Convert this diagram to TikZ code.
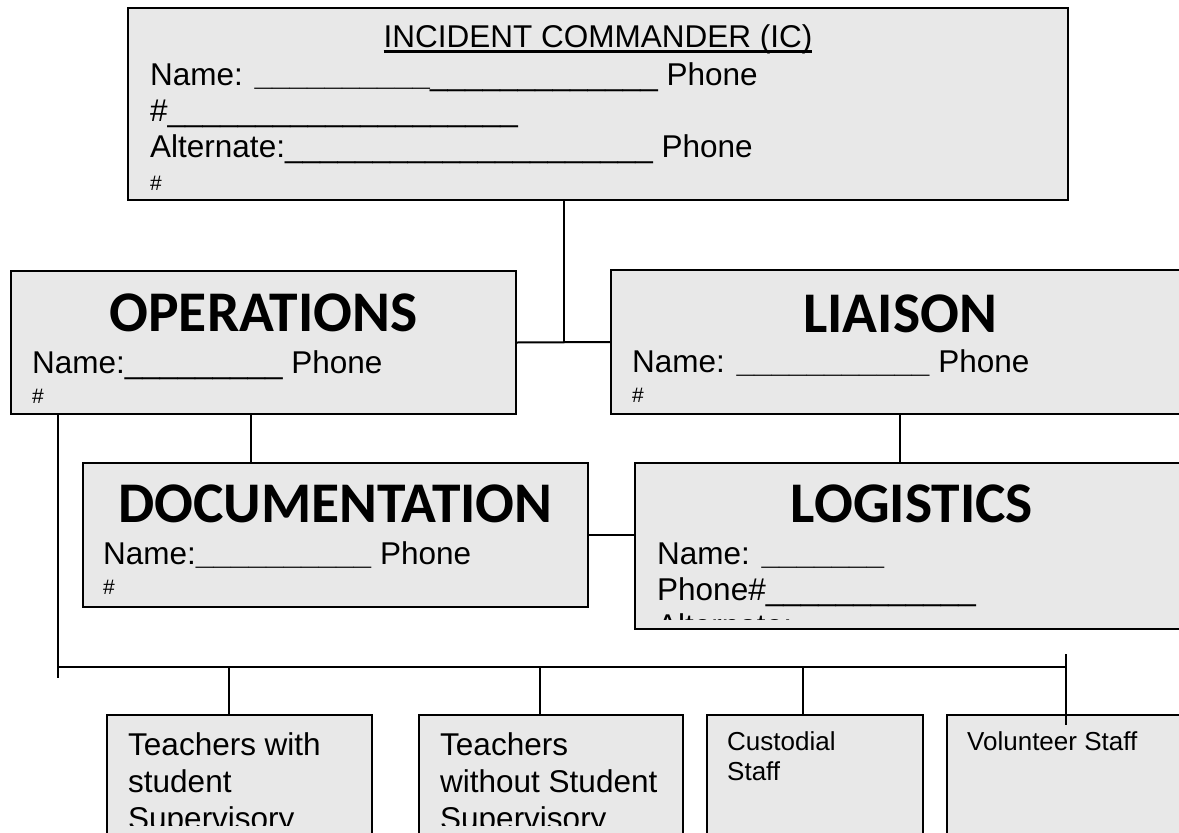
\documentclass[tikz,border=0pt]{standalone}
\usepackage{fontspec}
\setmainfont{Liberation Sans}
\newfontfamily\headfont{Carlito}
\usetikzlibrary{positioning, calc}

\definecolor{boxgray}{HTML}{E8E8E8}
\newsavebox\ulbox
\newcommand{\blanks}[1]{\foreach\k in {1,...,#1}{\_}}
\newcommand{\icline}[1]{\sbox\ulbox{#1}\rlap{\rule[-5.5pt]{\wd\ulbox}{2.5pt}}\usebox\ulbox}
\newcommand{\hash}{{\fontsize{21}{24}\selectfont\#}}
\newcommand{\rows}[1]{\vtop{\halign{##\hfil\cr#1\crcr}}}

\tikzset{
  box/.style={draw=black, fill=boxgray, line width=2pt, anchor=north west, inner sep=0pt},
  head/.style={font=\headfont\bfseries\fontsize{57.5}{60}\selectfont, anchor=base, inner sep=0pt},
  body/.style={font=\fontsize{31.5}{36}\selectfont, anchor=base west, inner sep=0pt},
  note/.style={font=\fontsize{26}{30}\selectfont, anchor=base west, inner sep=0pt},
  link/.style={line width=2pt},
}

\begin{document}
\begin{tikzpicture}[x=1pt, y=-1pt]
  \useasboundingbox (0,0) rectangle (1179,833);
  \clip (0,0) rectangle (1179,833);

  % boxes of the chart
  \node[box, minimum width=940pt, minimum height=192pt] (ic) at (127,7) {};
  \node[box, minimum width=505pt, minimum height=143pt] (ops) at (10,270) {};
  \node[box, minimum width=578pt, minimum height=144pt] (lia) at (610,269) {};
  \node[box, minimum width=505pt, minimum height=144pt] (doc) at (82,462) {};
  \node[box, minimum width=554pt, minimum height=166pt] (log) at (634,462) {};
  \node[box, minimum width=265pt, minimum height=140pt] (tw) at (106,714) {};
  \node[box, minimum width=264pt, minimum height=140pt] (two) at (418,714) {};
  \node[box, minimum width=216pt, minimum height=140pt] (cust) at (706,714) {};
  \node[box, minimum width=260pt, minimum height=140pt] (vol) at (946,714) {};

  % incident commander
  \node[body, anchor=base] (ictitle) at ($(ic.north)+(0,40)$) {\icline{INCIDENT COMMANDER (IC)}};
  \node[body] (icbody) at (150,85) {\rows{Name: \textbf{\blanks{10}}\blanks{13} Phone\cr
    \#\blanks{20}\cr
    Alternate:\blanks{21} Phone\cr\noalign{\vskip-3pt}
    \hash}};

  % sections
  \node[head] (opstitle) at ($(ops.north)+(0,61)$) {OPERATIONS};
  \node[body] (opsbody) at (32,373) {\rows{Name:\blanks{9} Phone\cr\noalign{\vskip-6pt}\hash}};
  \node[head] (liatitle) at ($(lia.north)+(0,63)$) {LIAISON};
  \node[body] (liabody) at (632,372) {\rows{Name: \textbf{\blanks{11}} Phone\cr\noalign{\vskip-6pt}\hash}};
  \node[head] (doctitle) at ($(doc.north)+(0,60)$) {DOCUMENTATION};
  \node[body] (docbody) at (103,564) {\rows{Name:\textbf{\blanks{10}} Phone\cr\noalign{\vskip-6pt}\hash}};
  \node[head] (logtitle) at ($(log.north)+(0,60)$) {LOGISTICS};
  \begin{scope}
    \clip (634,462) rectangle (1179,619);
    \node[body] (logbody) at (657,564) {\rows{Name: \textbf{\blanks{7}}\cr
      Phone\#\blanks{12}\cr
      Alternate:}};
  \end{scope}

  % staff groups
  \begin{scope}
    \clip (0,0) rectangle (1179,825);
    \node[body, font=\fontsize{31.5}{37}\selectfont] (twtext) at (128,755) {\rows{Teachers with\cr student\cr Supervisory}};
    \node[body, font=\fontsize{31.5}{37}\selectfont] (twotext) at (440,755) {\rows{Teachers\cr without Student\cr Supervisory}};
  \end{scope}
  \node[note] (custtext) at (727,750) {\rows{Custodial\cr Staff}};
  \node[note] (voltext) at (967,750) {Volunteer Staff};

  % connectors
  \coordinate (hub) at ($(ops.east)!0.5!(lia.west)$);
  \draw[link] (ops.east) -- (lia.west);
  \draw[link] (ic.south -| hub) -- (hub);
  \draw[link] ([xshift=-12.5pt]ops.south) -- ([xshift=-12.5pt]ops.south |- doc.north);
  \draw[link] (lia.south) -- (lia.south |- log.north);
  \draw[link] (doc.east) -- (doc.east -| log.west);

  \coordinate (busL) at (58,667);
  \coordinate (busR) at (1066,667);
  \draw[link] ([xshift=48pt]ops.south west) -- ([xshift=48pt]ops.south west |- busL) -- ++(0,11);
  \draw[link] (busL) -- (busR);
  \draw[link] ($(busR)+(0,-13)$) -- ($(busR)+(0,58)$);
  \draw[link] ([xshift=-11pt]tw.north) -- ([xshift=-11pt]tw.north |- busL);
  \draw[link] ([xshift=-11pt]two.north) -- ([xshift=-11pt]two.north |- busL);
  \draw[link] ([xshift=-12pt]cust.north) -- ([xshift=-12pt]cust.north |- busL);
\end{tikzpicture}
\end{document}
